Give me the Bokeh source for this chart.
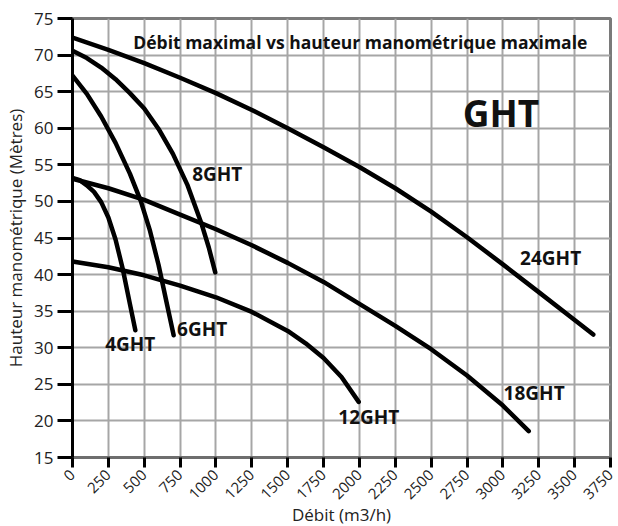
from math import pi
from bokeh.plotting import figure
from bokeh.models import Range1d, FixedTicker, Label
from bokeh.embed import file_html
from bokeh.resources import INLINE

# ---- data ----
x_ticks = [0, 250, 500, 750, 1000, 1250, 1500, 1750, 2000, 2250, 2500, 2750, 3000, 3250, 3500, 3750]
y_ticks = [15, 20, 25, 30, 35, 40, 45, 50, 55, 60, 65, 70, 75]

q_4ght = [0, 50, 100, 150, 200, 250, 300, 350, 400, 438]
h_4ght = [53.2, 52.9, 52.2, 51.3, 49.9, 47.8, 44.8, 40.8, 36.0, 32.4]

q_6ght = [0, 100, 200, 300, 400, 475, 540, 600, 660, 705]
h_6ght = [67.2, 64.7, 61.6, 58.0, 53.8, 50.1, 46.0, 41.3, 35.8, 31.7]

q_8ght = [0, 100, 200, 300, 400, 500, 600, 700, 800, 900, 950, 995]
h_8ght = [70.6, 69.6, 68.3, 66.7, 64.8, 62.7, 59.9, 56.5, 52.3, 46.9, 43.7, 40.3]

q_12ght = [0, 250, 500, 750, 1000, 1250, 1500, 1625, 1750, 1875, 1995]
h_12ght = [41.8, 41.0, 39.9, 38.5, 36.9, 34.9, 32.3, 30.6, 28.6, 26.0, 22.6]

q_18ght = [0, 250, 500, 750, 1000, 1250, 1500, 1750, 2000, 2250, 2500, 2750, 3000, 3180]
h_18ght = [53.1, 51.8, 50.2, 48.2, 46.2, 44.0, 41.6, 39.0, 36.0, 33.0, 29.8, 26.2, 22.1, 18.6]

q_24ght = [0, 250, 500, 750, 1000, 1250, 1500, 1750, 2000, 2250, 2500, 2750, 3000, 3250, 3500, 3630]
h_24ght = [72.4, 70.7, 68.9, 66.9, 64.8, 62.5, 60.0, 57.4, 54.7, 51.8, 48.6, 45.1, 41.4, 37.6, 33.8, 31.8]

series_names = ["4GHT", "6GHT", "8GHT", "12GHT", "18GHT", "24GHT"]
series_q = [q_4ght, q_6ght, q_8ght, q_12ght, q_18ght, q_24ght]
series_h = [h_4ght, h_6ght, h_8ght, h_12ght, h_18ght, h_24ght]

title_text = "Débit maximal vs hauteur manométrique maximale"
family_text = "GHT"
x_label = "Débit (m3/h)"
y_label = "Hauteur manométrique (Mètres)"

FONT = "Open Sans"

p = figure(frame_width=538, frame_height=439,
           x_range=Range1d(0, 3750), y_range=Range1d(15, 75),
           output_backend="svg", toolbar_location=None,
           min_border_left=72, min_border_right=8,
           min_border_top=18, min_border_bottom=69)

p.background_fill_color = "white"
p.border_fill_color = "white"
p.outline_line_color = "#7a7a7a"
p.outline_line_width = 3

# grid
for g in (p.xgrid, p.ygrid):
    g.grid_line_color = "#a6a6a6"
    g.grid_line_width = 2
p.xgrid.ticker = FixedTicker(ticks=x_ticks)
p.ygrid.ticker = FixedTicker(ticks=y_ticks)

# axes
p.xaxis.ticker = FixedTicker(ticks=x_ticks)
p.yaxis.ticker = FixedTicker(ticks=y_ticks)
p.xaxis.minor_tick_line_color = None
p.yaxis.minor_tick_line_color = None

p.yaxis.axis_line_color = "black"
p.yaxis.axis_line_width = 3
p.yaxis.major_tick_line_color = "black"
p.yaxis.major_tick_line_width = 3
p.yaxis.major_tick_out = 15
p.yaxis.major_tick_in = 0

p.xaxis.axis_line_color = "#6e6e6e"
p.xaxis.axis_line_width = 3
p.xaxis.major_tick_line_color = "black"
p.xaxis.major_tick_line_width = 3
p.xaxis.major_tick_out = 10
p.xaxis.major_tick_in = 0
p.xaxis.major_label_orientation = pi / 4

for ax in (p.xaxis, p.yaxis):
    ax.major_label_text_font = FONT
    ax.major_label_text_color = "#222222"
    ax.axis_label_text_font = FONT
    ax.axis_label_text_font_size = "17px"
    ax.axis_label_text_font_style = "normal"
    ax.axis_label_text_color = "#222222"
p.yaxis.major_label_text_font_size = "17px"
p.xaxis.major_label_text_font_size = "15px"
p.yaxis.major_label_standoff = 4
p.xaxis.major_label_standoff = 5
p.xaxis.axis_label = x_label
p.yaxis.axis_label = y_label
p.xaxis.axis_label_standoff = -4
p.yaxis.axis_label_standoff = 4

# curves
for q, h in zip(series_q, series_h):
    p.line(q, h, line_color="black", line_width=4.5, line_join="round", line_cap="round")

# labels
label_pos = {"4GHT": (228, 30.5), "6GHT": (729, 32.5), "8GHT": (834, 53.7),
             "12GHT": (1853, 20.6), "18GHT": (3005, 23.8), "24GHT": (3120, 42.2)}
for name in series_names:
    lx, ly = label_pos[name]
    p.add_layout(Label(x=lx, y=ly, text=name, text_font=FONT, text_font_style="bold",
                       text_font_size="19px", text_color="#111111",
                       text_align="left", text_baseline="middle"))

p.add_layout(Label(x=424, y=71.8, text=title_text, text_font=FONT, text_font_style="bold",
                   text_font_size="17.5px", text_color="#111111",
                   text_align="left", text_baseline="middle"))
p.add_layout(Label(x=2987, y=62.2, text=family_text, text_font=FONT, text_font_style="bold",
                   text_font_size="37px", text_color="#111111",
                   text_align="center", text_baseline="middle"))

open("out.html", "w").write(file_html(p, INLINE))
